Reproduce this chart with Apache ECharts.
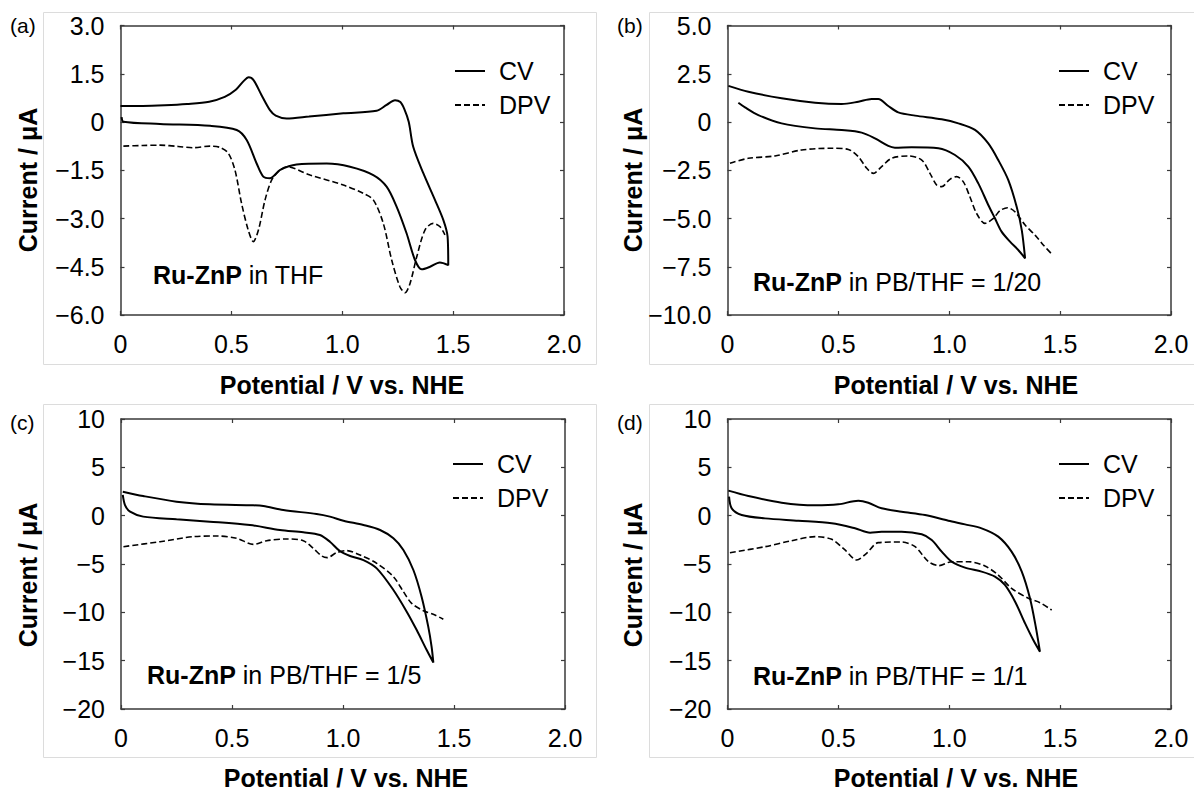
<!DOCTYPE html>
<html>
<head>
<meta charset="utf-8">
<script src="https://cdn.jsdelivr.net/npm/echarts@6/dist/echarts.min.js"></script>
<style>html,body{margin:0;padding:0;background:#fff;}#c{width:1194px;height:792px;}</style>
</head>
<body>
<div id="c"></div>
<script>
// ---------- data (potential V vs NHE, current µA) ----------
const xTickLabels = ['0', '0.5', '1.0', '1.5', '2.0'];
const yTicksA = ['\u22126.0', '\u22124.5', '\u22123.0', '\u22121.5', '0', '1.5', '3.0'];
const yTicksB = ['\u221210.0', '\u22127.5', '\u22125.0', '\u22122.5', '0', '2.5', '5.0'];
const yTicksC = ['\u221220', '\u221215', '\u221210', '\u22125', '0', '5', '10'];
const yTicksD = ['\u221220', '\u221215', '\u221210', '\u22125', '0', '5', '10'];
const panelLetters = ['(a)', '(b)', '(c)', '(d)'];
const panelNotes = ['in THF', 'in PB/THF = 1/20', 'in PB/THF = 1/5', 'in PB/THF = 1/1'];
const seriesNames = ['CV', 'DPV'];

const cvA = [[0.0,0.5],[0.1,0.5],[0.2,0.52],[0.3,0.56],[0.4,0.63],[0.47,0.78],[0.52,1.0],[0.555,1.27],[0.578,1.39],[0.60,1.3],[0.635,0.85],[0.674,0.37],[0.70,0.2],[0.749,0.11],[0.85,0.17],[1.005,0.27],[1.155,0.35],[1.2,0.53],[1.238,0.68],[1.262,0.62],[1.28,0.4],[1.30,0.0],[1.32,-0.77],[1.366,-1.6],[1.418,-2.42],[1.456,-3.05],[1.475,-3.56],[1.478,-4.45],[1.44,-4.37],[1.396,-4.5],[1.358,-4.58],[1.328,-4.29],[1.29,-3.46],[1.245,-2.63],[1.2,-2.01],[1.14,-1.65],[1.035,-1.39],[0.93,-1.29],[0.794,-1.32],[0.72,-1.49],[0.674,-1.75],[0.644,-1.70],[0.614,-1.29],[0.569,-0.56],[0.524,-0.25],[0.404,-0.12],[0.178,-0.06],[0.013,0.01],[0.005,0.15]];
const dpvA = [[0.013,-0.75],[0.1,-0.73],[0.178,-0.72],[0.26,-0.76],[0.328,-0.8],[0.404,-0.75],[0.449,-0.79],[0.486,-0.97],[0.516,-1.49],[0.546,-2.53],[0.576,-3.36],[0.599,-3.72],[0.622,-3.36],[0.652,-2.42],[0.682,-1.8],[0.72,-1.49],[0.749,-1.39],[0.855,-1.65],[1.005,-1.96],[1.095,-2.22],[1.14,-2.42],[1.185,-3.15],[1.223,-4.29],[1.26,-5.12],[1.283,-5.31],[1.306,-5.01],[1.336,-4.19],[1.373,-3.36],[1.41,-3.15],[1.44,-3.25],[1.463,-3.51]];

const cvB = [[0.004,1.87],[0.094,1.57],[0.244,1.23],[0.395,1.0],[0.515,0.93],[0.59,1.05],[0.65,1.19],[0.68,1.19],[0.725,0.83],[0.77,0.5],[0.846,0.33],[0.966,0.14],[1.041,-0.07],[1.116,-0.41],[1.176,-1.11],[1.221,-1.97],[1.266,-3.0],[1.304,-4.39],[1.327,-5.6],[1.342,-7.06],[1.311,-6.63],[1.274,-6.2],[1.236,-5.68],[1.206,-4.99],[1.176,-4.3],[1.131,-3.18],[1.086,-2.31],[1.026,-1.71],[0.951,-1.36],[0.83,-1.31],[0.755,-1.33],[0.725,-1.24],[0.665,-0.85],[0.605,-0.55],[0.515,-0.42],[0.395,-0.33],[0.244,-0.07],[0.139,0.36],[0.079,0.76],[0.049,1.0]];
const dpvB = [[0.011,-2.14],[0.094,-1.88],[0.214,-1.76],[0.334,-1.45],[0.47,-1.36],[0.545,-1.42],[0.59,-1.8],[0.628,-2.4],[0.658,-2.66],[0.695,-2.31],[0.74,-1.88],[0.815,-1.76],[0.876,-1.97],[0.913,-2.66],[0.943,-3.26],[0.966,-3.35],[1.003,-2.97],[1.033,-2.83],[1.063,-3.09],[1.093,-3.87],[1.123,-4.73],[1.161,-5.25],[1.199,-4.99],[1.229,-4.59],[1.263,-4.44],[1.296,-4.65],[1.342,-5.34],[1.387,-5.86],[1.424,-6.37],[1.462,-6.84]];

const cvC = [[0.008,2.48],[0.1,2.03],[0.25,1.45],[0.4,1.17],[0.596,1.07],[0.641,1.0],[0.731,0.59],[0.881,0.17],[0.941,-0.1],[1.002,-0.52],[1.092,-0.97],[1.167,-1.48],[1.227,-2.34],[1.272,-3.55],[1.317,-5.62],[1.354,-8.38],[1.384,-11.48],[1.399,-13.55],[1.407,-15.2],[1.377,-13.9],[1.332,-11.83],[1.287,-9.93],[1.227,-7.69],[1.152,-5.45],[1.092,-4.59],[1.032,-4.17],[0.986,-3.66],[0.941,-2.69],[0.896,-2.0],[0.821,-1.72],[0.716,-1.48],[0.581,-0.97],[0.4,-0.62],[0.25,-0.38],[0.1,-0.1],[0.041,0.41],[0.018,1.1],[0.008,2.14]];
const dpvC = [[0.011,-3.21],[0.176,-2.69],[0.326,-2.17],[0.431,-2.1],[0.521,-2.34],[0.596,-2.97],[0.656,-2.59],[0.746,-2.41],[0.821,-2.59],[0.866,-3.38],[0.904,-4.17],[0.929,-4.34],[0.971,-3.83],[1.017,-3.62],[1.077,-4.07],[1.152,-4.93],[1.227,-6.31],[1.272,-7.86],[1.309,-9.07],[1.362,-9.83],[1.414,-10.28],[1.452,-10.72]];

const cvD = [[0.004,2.59],[0.094,2.03],[0.244,1.34],[0.395,1.07],[0.5,1.17],[0.59,1.55],[0.635,1.34],[0.695,0.76],[0.785,0.41],[0.891,0.07],[0.996,-0.52],[1.071,-0.9],[1.146,-1.31],[1.221,-2.17],[1.281,-3.72],[1.327,-5.79],[1.364,-8.55],[1.39,-11.48],[1.409,-14.07],[1.379,-12.86],[1.342,-11.14],[1.297,-8.9],[1.251,-7.17],[1.206,-6.31],[1.146,-5.79],[1.071,-5.38],[1.011,-4.76],[0.966,-3.72],[0.921,-2.52],[0.876,-1.93],[0.785,-1.66],[0.695,-1.66],[0.643,-1.76],[0.575,-1.31],[0.47,-0.79],[0.32,-0.52],[0.169,-0.28],[0.064,0.07],[0.019,0.76],[0.007,1.97]];
const dpvD = [[0.011,-3.83],[0.169,-3.21],[0.289,-2.59],[0.395,-2.17],[0.47,-2.45],[0.53,-3.55],[0.583,-4.59],[0.627,-3.9],[0.68,-2.79],[0.785,-2.72],[0.846,-3.21],[0.906,-4.76],[0.954,-5.17],[1.011,-4.76],[1.086,-4.76],[1.161,-5.21],[1.221,-6.14],[1.281,-7.52],[1.357,-8.55],[1.409,-9.0],[1.462,-9.76]];

// ---------- layout ----------
const FONT = '"Liberation Sans", Arial, Helvetica, sans-serif';
const panels = [
  { grid: { left: 120.5, top: 25.5, width: 443.5, height: 289.5 }, y: [-6, 3, 1.5], yl: yTicksA, cv: cvA, dpv: dpvA,
    frame: [43, 12, 553, 352], letter: [10, 25], yTitle: [28, 180], xTitle: [342, 385], note: [153, 275], legend: [449, 53] },
  { grid: { left: 727.5, top: 25.5, width: 443.5, height: 289.5 }, y: [-10, 5, 2.5], yl: yTicksB, cv: cvB, dpv: dpvB,
    frame: [649, 12, 560, 352], letter: [617, 25], yTitle: [633, 180], xTitle: [956, 385], note: [753, 282], legend: [1053, 53] },
  { grid: { left: 121, top: 419, width: 444, height: 290 }, y: [-20, 10, 5], yl: yTicksC, cv: cvC, dpv: dpvC,
    frame: [43, 404, 553, 353], letter: [10, 422], yTitle: [28, 575], xTitle: [346, 778], note: [147, 675], legend: [447, 446] },
  { grid: { left: 727.5, top: 419, width: 443.5, height: 290 }, y: [-20, 10, 5], yl: yTicksD, cv: cvD, dpv: dpvD,
    frame: [649, 404, 560, 353], letter: [617, 422], yTitle: [633, 575], xTitle: [956, 778], note: [753, 676], legend: [1053, 446] }
];

const AX = '#3a3a3a';
const grids = [], xAxes = [], yAxes = [], series = [], legends = [], graphics = [];

panels.forEach((p, i) => {
  grids.push(Object.assign({ containLabel: false }, p.grid));
  const [ymin, ymax, yint] = p.y;
  const xBase = { type: 'value', gridIndex: i, min: 0, max: 2, interval: 0.5,
    axisLine: { show: true, onZero: false, lineStyle: { color: AX, width: 1.5 } },
    axisTick: { show: true, inside: true, length: 4, lineStyle: { color: AX, width: 1.2 } },
    splitLine: { show: false } };
  xAxes.push(Object.assign({}, xBase, { position: 'bottom',
    axisLabel: { show: true, margin: 16, fontSize: 25, color: '#000', fontFamily: FONT,
      formatter: v => xTickLabels[Math.round(v / 0.5)] } }));
  xAxes.push(Object.assign({}, xBase, { position: 'top', axisLabel: { show: false } }));
  const yBase = { type: 'value', gridIndex: i, min: ymin, max: ymax, interval: yint,
    axisLine: { show: true, onZero: false, lineStyle: { color: AX, width: 1.5 } },
    axisTick: { show: true, inside: true, length: 4, lineStyle: { color: AX, width: 1.2 } },
    splitLine: { show: false } };
  yAxes.push(Object.assign({}, yBase, { position: 'left',
    axisLabel: { show: true, margin: 16, fontSize: 25, color: '#000', fontFamily: FONT,
      formatter: v => p.yl[Math.round((v - ymin) / yint)] } }));
  yAxes.push(Object.assign({}, yBase, { position: 'right', axisLabel: { show: false } }));

  series.push({ name: seriesNames[0], type: 'line', xAxisIndex: 2 * i, yAxisIndex: 2 * i, data: p.cv,
    symbol: 'none', smooth: 0.3, lineStyle: { color: '#000', width: 2, type: 'solid' }, itemStyle: { color: '#000' }, animation: false });
  series.push({ name: seriesNames[1], type: 'line', xAxisIndex: 2 * i, yAxisIndex: 2 * i, data: p.dpv,
    symbol: 'none', smooth: 0.3, lineStyle: { color: '#000', width: 1.6, type: [6, 3] }, itemStyle: { color: '#000' }, animation: false });

  legends.push({ left: p.legend[0], top: p.legend[1], orient: 'vertical', itemWidth: 30, itemHeight: 14, itemGap: 8,
    data: seriesNames, selectedMode: false,
    itemStyle: { opacity: 0, borderWidth: 0 },
    lineStyle: { color: '#000' },
    textStyle: { fontSize: 25, lineHeight: 26, color: '#000', fontFamily: FONT, padding: [0, 0, 0, 9] } });

  const f = p.frame;
  graphics.push({ type: 'rect', shape: { x: f[0] + 0.5, y: f[1] + 0.5, width: f[2], height: f[3] }, z: -1,
    style: { fill: 'none', stroke: '#dcdcdc', lineWidth: 1 }, silent: true });
  graphics.push({ type: 'text', x: p.letter[0], y: p.letter[1],
    style: { text: panelLetters[i], font: '21px ' + FONT, fill: '#000', textAlign: 'left', textVerticalAlign: 'middle' } });
  graphics.push({ type: 'text', x: p.yTitle[0], y: p.yTitle[1], rotation: Math.PI / 2,
    style: { text: 'Current / \u03bcA', font: 'bold 25px ' + FONT, fill: '#000', textAlign: 'center', textVerticalAlign: 'middle' } });
  graphics.push({ type: 'text', x: p.xTitle[0], y: p.xTitle[1],
    style: { text: 'Potential / V vs. NHE', font: 'bold 25px ' + FONT, fill: '#000', textAlign: 'center', textVerticalAlign: 'middle' } });
  graphics.push({ type: 'text', x: p.note[0], y: p.note[1],
    style: { text: '{b|Ru-ZnP} ' + panelNotes[i], font: '25px ' + FONT, fill: '#000', textAlign: 'left', textVerticalAlign: 'middle',
      rich: { b: { fontWeight: 'bold', fontSize: 25, fontFamily: FONT, fill: '#000' } } } });
});

const chart = echarts.init(document.getElementById('c'), null, { renderer: 'svg', width: 1194, height: 792 });
chart.setOption({
  backgroundColor: '#fff',
  animation: false,
  grid: grids,
  xAxis: xAxes,
  yAxis: yAxes,
  legend: legends,
  series: series,
  graphic: graphics
});
</script>
</body>
</html>
